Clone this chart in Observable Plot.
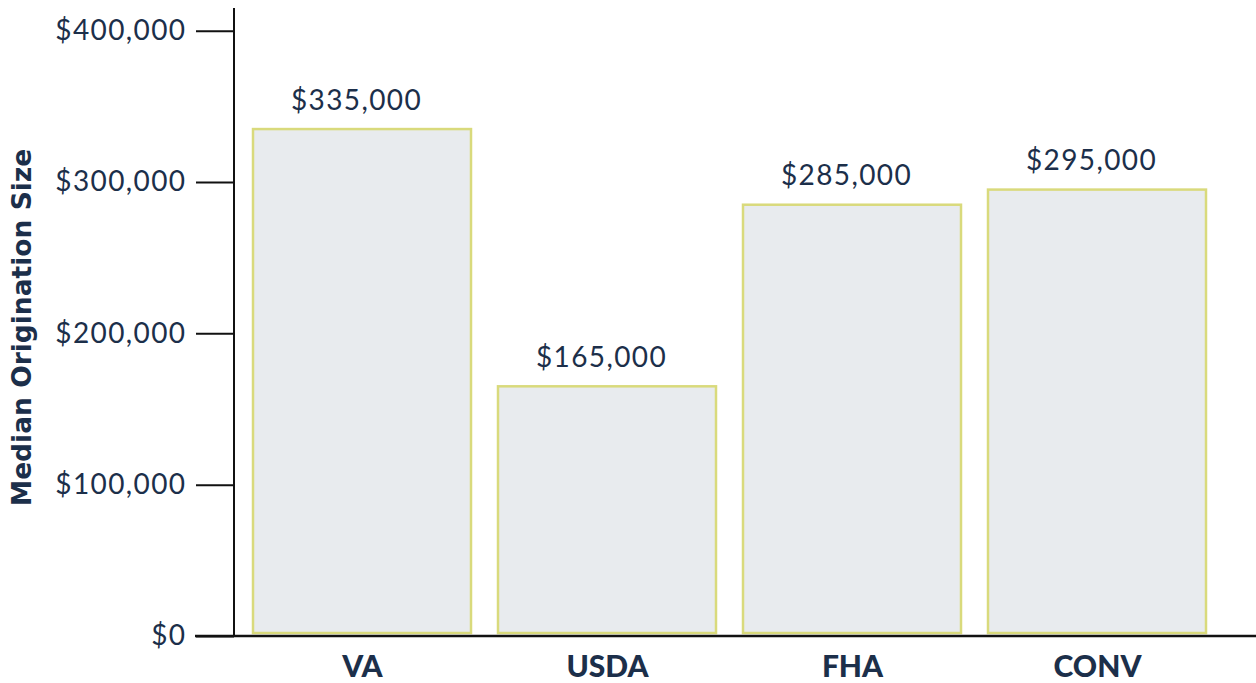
<!DOCTYPE html>
<html>
<head>
<meta charset="utf-8">
<script src="https://cdn.jsdelivr.net/npm/d3@7"></script>
<script src="https://cdn.jsdelivr.net/npm/@observablehq/plot@0.6"></script>
<style>
  html, body { margin: 0; padding: 0; background: #fff; }
  #chart { width: 1256px; height: 683px; }
</style>
</head>
<body>
<div id="chart"></div>
<script>
const categories = ["VA", "USDA", "FHA", "CONV"];
const values = [335000, 165000, 285000, 295000];
const yTicks = [0, 100000, 200000, 300000, 400000];
const yLabel = "Median Origination Size";

const data = categories.map((c, i) => ({category: c, value: values[i]}));
const fmt = d => "$" + d3.format(",")(d);
const ink = "#1c2f4a";

function axisLines(index, scales, values, dims) {
  const g = d3.create("svg:g");
  const y0 = scales.y(0);
  g.append("line")
    .attr("x1", dims.marginLeft).attr("x2", dims.marginLeft)
    .attr("y1", dims.marginTop).attr("y2", y0 + 1)
    .attr("stroke", "#111").attr("stroke-width", 2);
  g.append("line")
    .attr("x1", dims.marginLeft - 39).attr("x2", dims.width)
    .attr("y1", y0).attr("y2", y0)
    .attr("stroke", "#111").attr("stroke-width", 2.5);
  return g.node();
}

const chart = Plot.plot({
  width: 1256,
  height: 683,
  marginLeft: 234,
  marginRight: 31,
  marginTop: 8,
  marginBottom: 47,
  style: {fontFamily: "Lato, 'Open Sans', sans-serif", color: ink, background: "#fff"},
  x: {domain: categories, paddingInner: 0.11, paddingOuter: 0.07},
  y: {domain: [0, 415000]},
  marks: [
    Plot.barY(data, {
      x: "category", y: "value",
      fill: "#e8ebee", stroke: "#d9da7c", strokeWidth: 2.5,
      insetBottom: 3
    }),
    Plot.text(data, {
      x: "category", y: "value", text: d => fmt(d.value),
      dy: -29, dx: -6, fontSize: 28, fill: ink
    }),
    Plot.axisY({
      ticks: yTicks, tickFormat: fmt, tickSize: 38, tickPadding: 10,
      fontSize: 28, stroke: "#111", strokeWidth: 2, color: ink, label: null
    }),
    Plot.axisX({
      tickSize: 0, tickPadding: 19, fontSize: 30, fontWeight: 900, fill: ink, label: null
    }),
    Plot.text([yLabel], {
      frameAnchor: "left", textAnchor: "middle", text: d => d, rotate: -90, dx: -212, dy: 5,
      fontSize: 26.5, fontWeight: "bold", fontFamily: "DejaVu Sans", fill: ink
    }),
    axisLines
  ]
});
document.getElementById("chart").appendChild(chart);
// slight letter-spacing on the currency labels to match the reference
chart.querySelectorAll("text").forEach(t => {
  if (t.textContent.startsWith("$")) t.style.letterSpacing = "1.4px";
});
</script>
</body>
</html>
